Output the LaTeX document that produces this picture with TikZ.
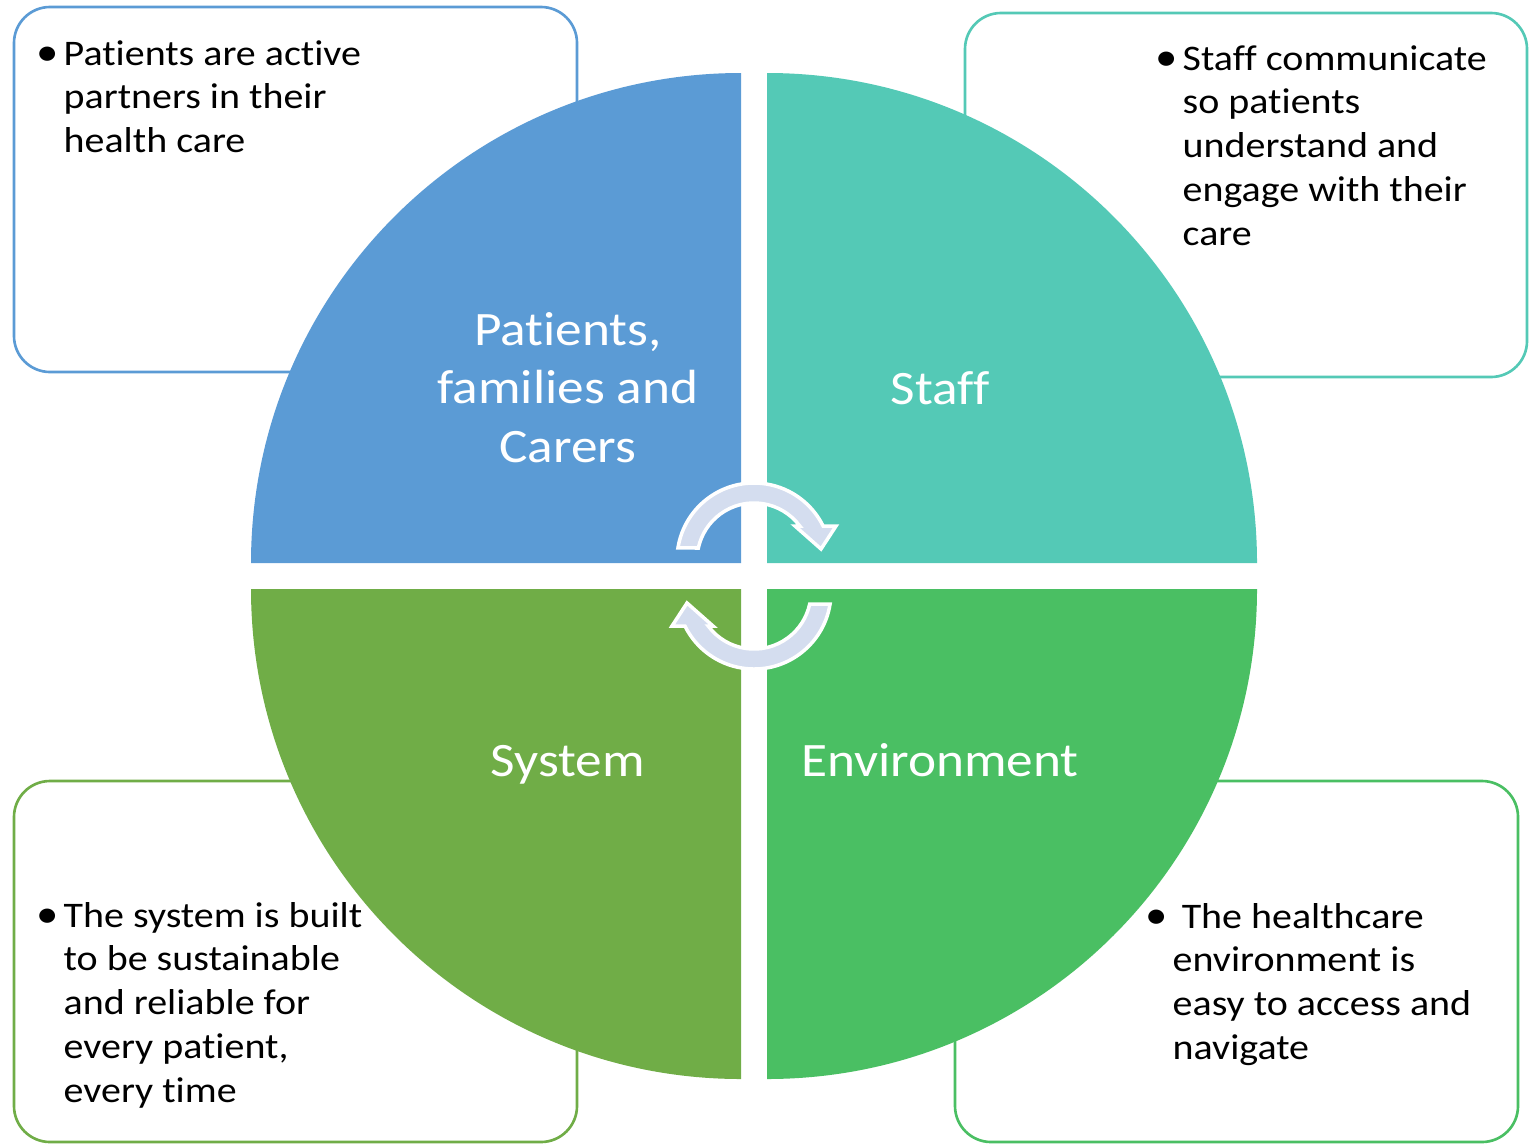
\documentclass[tikz,border=0pt]{standalone}
\usepackage{graphicx}
\usepackage{fontspec}
\setmainfont{Carlito}[FakeStretch=1.11, Ligatures=NoCommon]
\definecolor{qblue}{HTML}{5B9BD5}
\definecolor{qteal}{HTML}{54C9B6}
\definecolor{qolive}{HTML}{70AD47}
\definecolor{qgreen}{HTML}{4ABF63}
\definecolor{cyclefill}{HTML}{D4DDEF}
% hanging bullet placed left of the first line
\newcommand{\hangbullet}{\llap{\raisebox{-0.006cm}{\scalebox{1.12}{•}}\kern0.05cm}}
\begin{document}
\begin{tikzpicture}[x=0.01cm,y=0.01cm,
  infobox/.style={line width=0.75pt, rounded corners=0.36cm, fill=white},
  note/.style={anchor=base west, inner sep=0pt, font=\fontsize{10.24}{12.5}\selectfont},
  qlabel/.style={anchor=base, inner sep=0pt, text=white, font=\fontsize{13.65}{16.65}\selectfont},
  cyclearrow/.style={fill=cyclefill, draw=white, line width=1pt, line join=miter}
]
\useasboundingbox (0,0) rectangle (1534,1144);

% outlined note boxes behind the circle
\draw[infobox, draw=qblue]  (14,772)  rectangle (577,1137);
\draw[infobox, draw=qteal]  (965,767) rectangle (1527,1131);
\draw[infobox, draw=qolive] (14,2)    rectangle (577,363);
\draw[infobox, draw=qgreen] (955,2)   rectangle (1518,363);

% four quarters of the circle
\fill[qblue]  (741,581) -- ++(0,490)  arc[start angle=90,  end angle=180, radius=490] -- cycle;
\fill[qteal]  (767,581) -- ++(490,0)  arc[start angle=0,   end angle=90,  radius=490] -- cycle;
\fill[qolive] (741,555) -- ++(-490,0) arc[start angle=180, end angle=270, radius=490] -- cycle;
\fill[qgreen] (767,555) -- ++(0,-490) arc[start angle=270, end angle=360, radius=490] -- cycle;

% circular arrows in the middle
\path[cyclearrow] (677.95,596.05) arc[start angle=171, end angle=26.2, radius=77]
  -- (836,618) -- (821,595) -- (795,618) -- (799.8,618)
  arc[start angle=36.6, end angle=167.85, radius=57] -- cycle;
\path[cyclearrow, rotate around={180:(754,568)}] (677.95,596.05) arc[start angle=171, end angle=26.2, radius=77]
  -- (836,618) -- (821,595) -- (795,618) -- (799.8,618)
  arc[start angle=36.6, end angle=167.85, radius=57] -- cycle;

% quarter titles
\node[qlabel] (patients) at (568,799) {\begin{tabular}[t]{@{}c@{}}Patients,\\families and\\Carers\end{tabular}};
\node[qlabel] (staff) at (940,740) {Staff};
\node[qlabel] (system) at (568,368) {System};
\node[qlabel] (environment) at (940,368) {Environment};

% bullet notes
\node[note] (patientsnote) at (63,1079) {\begin{tabular}[t]{@{}l@{}}\hangbullet Patients are active\\partners in their\\health care\end{tabular}};
\node[note] (staffnote) at (1182,1074) {\begin{tabular}[t]{@{}l@{}}\hangbullet Staff communicate\\so patients\\understand and\\engage with their\\care\end{tabular}};
\node[note] (systemnote) at (63,217) {\begin{tabular}[t]{@{}l@{}}\hangbullet The system is built\\to be sustainable\\and reliable for\\every patient,\\every time\end{tabular}};
\node[note] (environmentnote) at (1172,216) {\begin{tabular}[t]{@{}l@{}}\hangbullet\ The healthcare\\environment is\\easy to access and\\navigate\end{tabular}};
\end{tikzpicture}
\end{document}
